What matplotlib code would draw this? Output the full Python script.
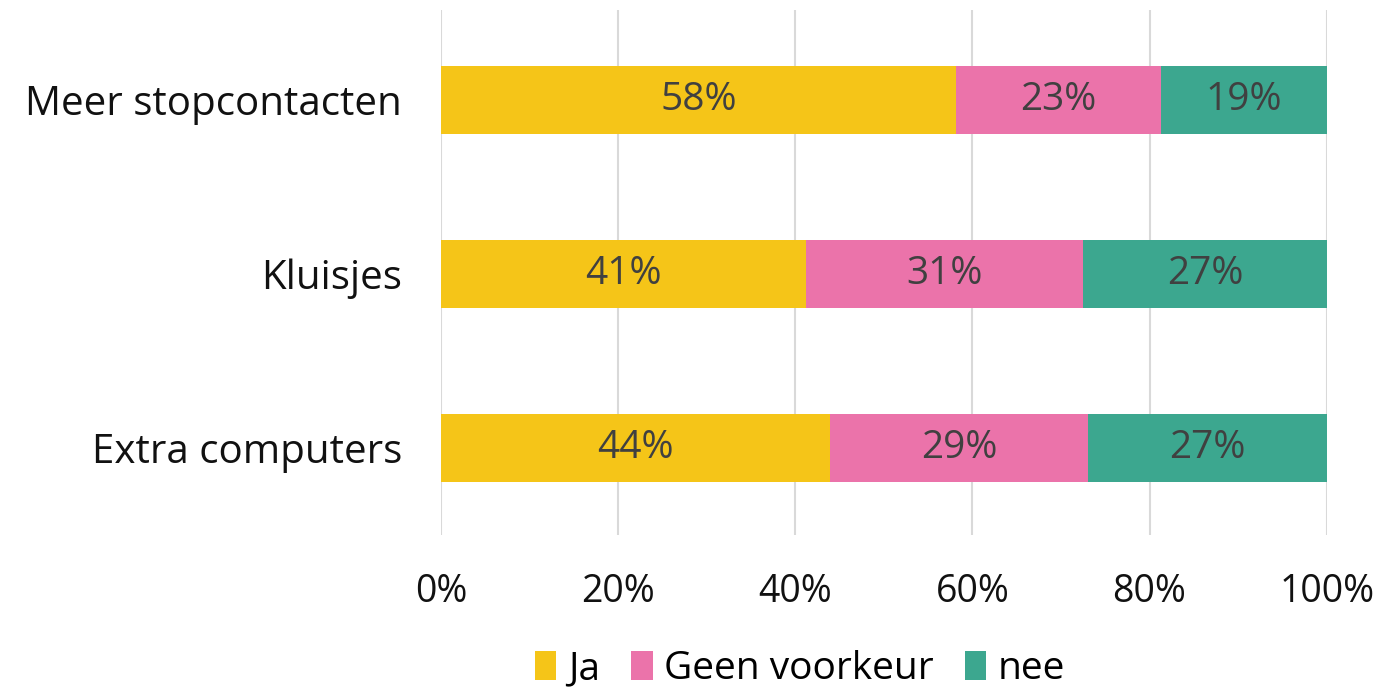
import matplotlib
matplotlib.use("Agg")
import matplotlib.pyplot as plt
from matplotlib.patches import Patch
import numpy as np

categories = ["Extra computers", "Kluisjes", "Meer stopcontacten"]
series_names = ["Ja", "Geen voorkeur", "nee"]
ja = [43.9, 41.2, 58.2]
geen = [29.2, 31.3, 23.1]
nee = [26.9, 27.5, 18.7]
labels_ja = ["44%", "41%", "58%"]
labels_geen = ["29%", "31%", "23%"]
labels_nee = ["27%", "27%", "19%"]
xticks = [0, 20, 40, 60, 80, 100]
xticklabels = ["0%", "20%", "40%", "60%", "80%", "100%"]
colors = ["#F5C518", "#EB73AA", "#3CA78F"]

plt.rcParams['font.family'] = ['Open Sans', 'DejaVu Sans']

fig = plt.figure(figsize=(13.82, 6.94), dpi=100)
ax = fig.add_axes([0.319, 0.229, 0.641, 0.757])

y = np.arange(len(categories))
h = 0.39
left = np.zeros(len(categories))
for vals, labs, col in zip([ja, geen, nee], [labels_ja, labels_geen, labels_nee], colors):
    ax.barh(y, vals, left=left, height=h, color=col, zorder=3)
    for i, (v, l) in enumerate(zip(vals, labs)):
        ax.text(left[i] + v / 2, y[i], l, ha='center', va='center',
                fontsize=28, color='#404040', zorder=4)
    left = left + np.array(vals)

ax.set_xlim(0, 100)
ax.set_ylim(-0.5, 2.52)
ax.set_xticks(xticks)
ax.set_xticklabels(xticklabels, fontsize=27)
ax.set_yticks(y)
ax.set_yticklabels(categories, fontsize=29)
ax.tick_params(axis='both', length=0, colors='#111111')
ax.tick_params(axis='x', pad=27)
ax.tick_params(axis='y', pad=28)
ax.grid(axis='x', color='#d9d9d9', linewidth=1.5, zorder=0)
for s in ax.spines.values():
    s.set_visible(False)

handles = [Patch(facecolor=c, label=n) for c, n in zip(colors, series_names)]
fig.legend(handles=handles, loc='center', bbox_to_anchor=(0.579, 0.036), ncol=3,
           frameon=False, handlelength=0.55, handleheight=0.8,
           handletextpad=0.3, columnspacing=0.8, borderpad=0.1,
           prop={'family': ['Open Sans', 'DejaVu Sans'], 'size': 28})

fig.savefig("out.png", dpi=100)
